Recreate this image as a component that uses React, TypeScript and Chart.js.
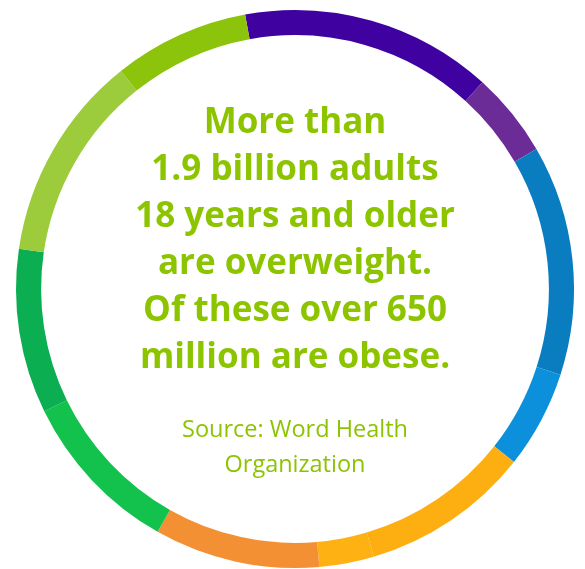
import React, { useEffect, useRef } from "react";
import { Chart, registerables } from "chart.js";

Chart.register(...registerables);

const segmentLabels = [
  "Segment 1", "Segment 2", "Segment 3", "Segment 4", "Segment 5", "Segment 6",
  "Segment 7", "Segment 8", "Segment 9", "Segment 10", "Segment 11",
];
const segmentValues = [52.5, 17.7, 48.0, 20.4, 35.3, 11.4, 34.5, 34.5, 34.3, 43.1, 28.3];
const segmentColors = [
  "#3F02A0", "#6B2C98", "#0A7DC1", "#0C90DC", "#FDAF12", "#FDB113",
  "#F49034", "#12C24C", "#0BAE50", "#9CCB3C", "#8BC40B",
];
const headlineLines = [
  "More than",
  "1.9 billion adults",
  "18 years and older",
  "are overweight.",
  "Of these over 650",
  "million are obese.",
];
const sourceLines = ["Source: Word Health", "Organization"];

const TEXT_COLOR = "#8CC400";

export default function App() {
  const canvasRef = useRef<HTMLCanvasElement | null>(null);

  useEffect(() => {
    if (!canvasRef.current) return;
    const chart = new Chart(canvasRef.current, {
      type: "doughnut",
      data: {
        labels: segmentLabels,
        datasets: [
          {
            data: segmentValues,
            backgroundColor: segmentColors,
            borderWidth: 0,
            hoverOffset: 0,
          },
        ],
      },
      options: {
        responsive: false,
        animation: false,
        devicePixelRatio: 1,
        rotation: -10.3,
        cutout: "91%",
        events: [],
        layout: { padding: { left: 16, right: 11, top: 10, bottom: 1 } },
        plugins: {
          legend: { display: false },
          tooltip: { enabled: false },
        },
      },
    });
    return () => chart.destroy();
  }, []);

  return (
    <div style={{ position: "absolute", left: 0, top: 0, width: 585, height: 569, background: "#fff" }}>
      <canvas ref={canvasRef} width={585} height={569} style={{ position: "absolute", left: 0, top: 0 }} />
      <div
        style={{
          position: "absolute",
          left: 0,
          width: 590,
          top: 96,
          textAlign: "center",
          fontFamily: "'Open Sans', Lato, sans-serif",
          fontWeight: 700,
          fontSize: 35,
          lineHeight: "47px",
          color: TEXT_COLOR,
        }}
      >
        {headlineLines.map((l) => (
          <div key={l}>{l}</div>
        ))}
      </div>
      <div
        style={{
          position: "absolute",
          left: 0,
          width: 590,
          top: 411,
          textAlign: "center",
          fontFamily: "'Open Sans', Lato, sans-serif",
          fontWeight: 400,
          fontSize: 23.5,
          lineHeight: "35px",
          color: TEXT_COLOR,
        }}
      >
        {sourceLines.map((l) => (
          <div key={l}>{l}</div>
        ))}
      </div>
    </div>
  );
}
